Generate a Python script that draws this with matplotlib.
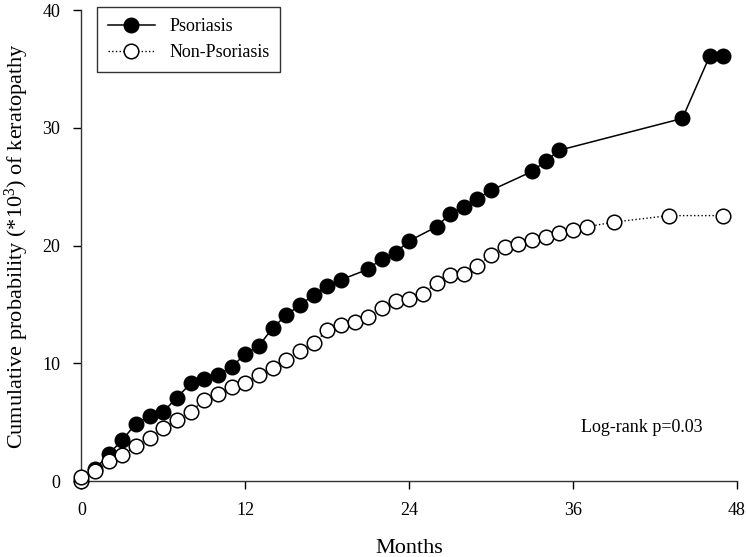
import matplotlib
matplotlib.use('Agg')
import matplotlib.pyplot as plt

plt.rcParams['font.family'] = ['Liberation Serif', 'DejaVu Serif']
plt.rcParams['mathtext.fontset'] = 'custom'
plt.rcParams['mathtext.rm'] = 'Liberation Serif'
plt.rcParams['mathtext.it'] = 'Liberation Serif:italic'

# Psoriasis cohort (months, cumulative probability *10^3)
pso_months = [1, 2, 3, 4, 5, 6, 7, 8, 9, 10, 11, 12, 13, 14, 15, 16, 17, 18, 19,
              21, 22, 23, 24, 26, 27, 28, 29, 30, 33, 34, 35, 44, 46, 47]
pso_prob = [1.0, 2.3, 3.5, 4.9, 5.5, 5.9, 7.1, 8.3, 8.7, 9.0, 9.7, 10.8, 11.5, 13.0,
            14.1, 14.95, 15.8, 16.6, 17.1, 18.0, 18.9, 19.4, 20.4, 21.6, 22.7, 23.3,
            24.0, 24.7, 26.3, 27.2, 28.1, 30.8, 36.1, 36.1]

# Non-psoriasis cohort
non_months = [0, 0, 1, 2, 3, 4, 5, 6, 7, 8, 9, 10, 11, 12, 13, 14, 15, 16, 17, 18,
              19, 20, 21, 22, 23, 24, 25, 26, 27, 28, 29, 30, 31, 32, 33, 34, 35,
              36, 37, 39, 43, 47]
non_prob = [0.0, 0.35, 0.9, 1.7, 2.2, 3.0, 3.7, 4.5, 5.2, 5.9, 6.9, 7.4, 8.0, 8.3,
            9.0, 9.6, 10.3, 11.05, 11.7, 12.8, 13.3, 13.5, 13.9, 14.7, 15.3, 15.45,
            15.9, 16.8, 17.5, 17.6, 18.3, 19.2, 19.9, 20.1, 20.45, 20.7, 21.1, 21.3,
            21.6, 22.0, 22.55, 22.55]

x_ticks = [0, 12, 24, 36, 48]
y_ticks = [0, 10, 20, 30, 40]

fig = plt.figure(figsize=(7.46, 5.57), dpi=100)
ax = fig.add_axes([0.109, 0.136, 0.879, 0.846])

ax.plot(pso_months, pso_prob, '-', color='black', lw=1.1, marker='o', ms=10.5,
        mfc='black', mec='black', label='Psoriasis', zorder=3, clip_on=False)
ax.plot(non_months, non_prob, ':', color='black', lw=1.0, marker='o', ms=10.5,
        mfc='white', mec='black', mew=1.1, label='Non-Psoriasis', zorder=3,
        clip_on=False)

ax.set_xlim(0, 48)
ax.set_ylim(0, 40)
ax.set_xticks(x_ticks)
ax.set_yticks(y_ticks)
ax.tick_params(direction='out', length=6, width=1, labelsize=13, pad=9)

for side in ['top', 'right']:
    ax.spines[side].set_visible(False)
for side in ['left', 'bottom']:
    ax.spines[side].set_linewidth(1.0)
    ax.spines[side].set_color('#333333')

ax.set_xlabel('Months', fontsize=16, labelpad=14)
ax.set_ylabel('Cumulative probability (*10$^3$) of keratopathy', fontsize=16, labelpad=8)

ax.text(36.6, 4.6, 'Log-rank p=0.03', fontsize=13, ha='left', va='center')

leg = ax.legend(loc='upper left', bbox_to_anchor=(0.024, 1.006), fontsize=13,
                frameon=True, fancybox=False, edgecolor='black', handlelength=2.6,
                borderpad=0.6, labelspacing=0.5, borderaxespad=0)
leg.get_frame().set_linewidth(1.0)

fig.savefig('out.png', dpi=100)
